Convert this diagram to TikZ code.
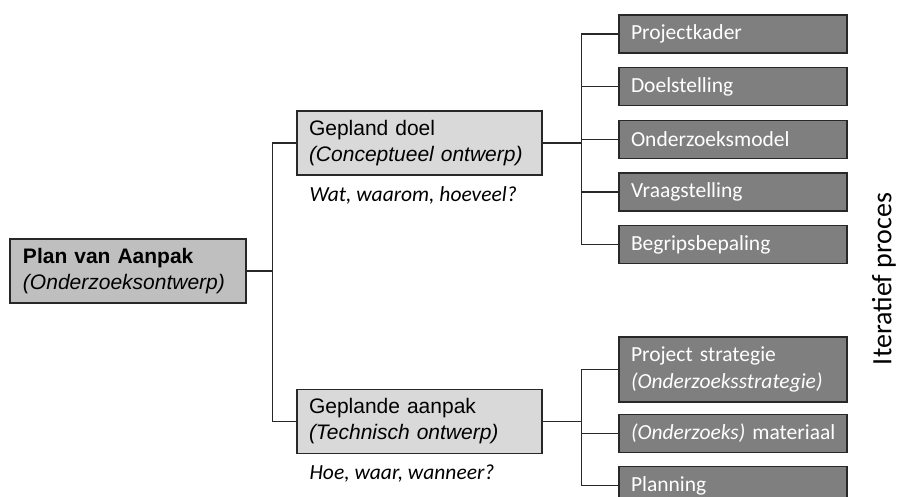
\documentclass[tikz,border=0pt]{standalone}
\usepackage{fontspec}
\setmainfont{Liberation Sans}
\newfontfamily\calibri{Carlito}
\usepackage{xcolor}
\usepackage{tikz}
\usetikzlibrary{positioning}

\definecolor{wortelgrijs}{RGB}{191,191,191}
\definecolor{lichtgrijs}{RGB}{217,217,217}
\definecolor{donkergrijs}{RGB}{127,127,127}
\definecolor{rand}{RGB}{40,40,40}

\begin{document}
\begin{tikzpicture}[
    x=1pt, y=-1pt,
    plan/.style={rectangle, draw=rand, line width=1.2pt, fill=wortelgrijs, text width=210pt, inner xsep=13pt, minimum height=64pt, align=left, font=\fontsize{21}{26}\selectfont},
    deel/.style={rectangle, draw=rand, line width=1.2pt, fill=lichtgrijs, text width=221pt, inner xsep=12pt, minimum height=64pt, align=left, font=\fontsize{21}{26}\selectfont},
    onderdeel/.style={rectangle, draw=rand, line width=1.2pt, fill=donkergrijs, text=white, text width=204pt, inner xsep=12pt, minimum height=38pt, align=left, font=\calibri\fontsize{21.5}{27}\selectfont},
    vraag/.style={font=\calibri\itshape\fontsize{21.5}{26}\selectfont, inner xsep=13pt, anchor=north west},
    tak/.style={draw=rand, line width=1.2pt}
]
\useasboundingbox (0,0) rectangle (903,497);

% hoofdknoop en de twee ontwerpdelen
\node[plan] (plan) at (128,271) {\textbf{Plan van Aanpak}\\\textit{(Onderzoeksontwerp)}};
\node[deel] (doel)   at (419.5,143)   {Gepland doel\\\textit{(Conceptueel ontwerp)}};
\node[deel] (aanpak) at (419.5,421.5) {Geplande aanpak\\\textit{(Technisch ontwerp)}};

\node[vraag, below right=7pt and 0pt of doel.south west]   (watvraag) {Wat, waarom, hoeveel?};
\node[vraag, below right=7pt and 0pt of aanpak.south west] (hoevraag) {Hoe, waar, wanneer?};

% onderdelen van het conceptueel ontwerp
\node[onderdeel] (kader) at (733,34) {Projectkader};
\node[onderdeel, below=13.5pt of kader]  (doelst)  {Doelstelling};
\node[onderdeel, below=13.5pt of doelst] (model)   {Onderzoeksmodel};
\node[onderdeel, below=13.5pt of model]  (vraagst) {Vraagstelling};
\node[onderdeel, below=13.5pt of vraagst] (begrip) {Begripsbepaling};

% onderdelen van het technisch ontwerp
\node[onderdeel, minimum height=65pt] (strategie) at (733,369.5) {Project strategie\\\textit{(Onderzoeksstrategie)}};
\node[onderdeel, below=11pt of strategie] (materiaal) {\mbox{\textit{(Onderzoeks)} materiaal}};
\node[onderdeel, below=13pt of materiaal] (planning)  {Planning};

\node[rotate=90, font=\calibri\fontsize{28}{32}\selectfont] (proces) at (884,279) {Iteratief proces};

% verbindingslijnen
\draw[tak] (plan.east) -- ++(26,0) |- (doel.west);
\draw[tak] (plan.east) -- ++(26,0) |- (aanpak.west);

\draw[tak] (doel.east) -- ++(39,0) |- (kader.west);
\draw[tak] (doel.east) -- ++(39,0) |- (doelst.west);
\draw[tak] (doel.east) -- ++(39,0) |- (model.west);
\draw[tak] (doel.east) -- ++(39,0) |- (vraagst.west);
\draw[tak] (doel.east) -- ++(39,0) |- (begrip.west);

\draw[tak] (aanpak.east) -- ++(39,0) |- (strategie.west);
\draw[tak] (aanpak.east) -- ++(39,0) |- (materiaal.west);
\draw[tak] (aanpak.east) -- ++(39,0) |- (planning.west);

\end{tikzpicture}
\end{document}
